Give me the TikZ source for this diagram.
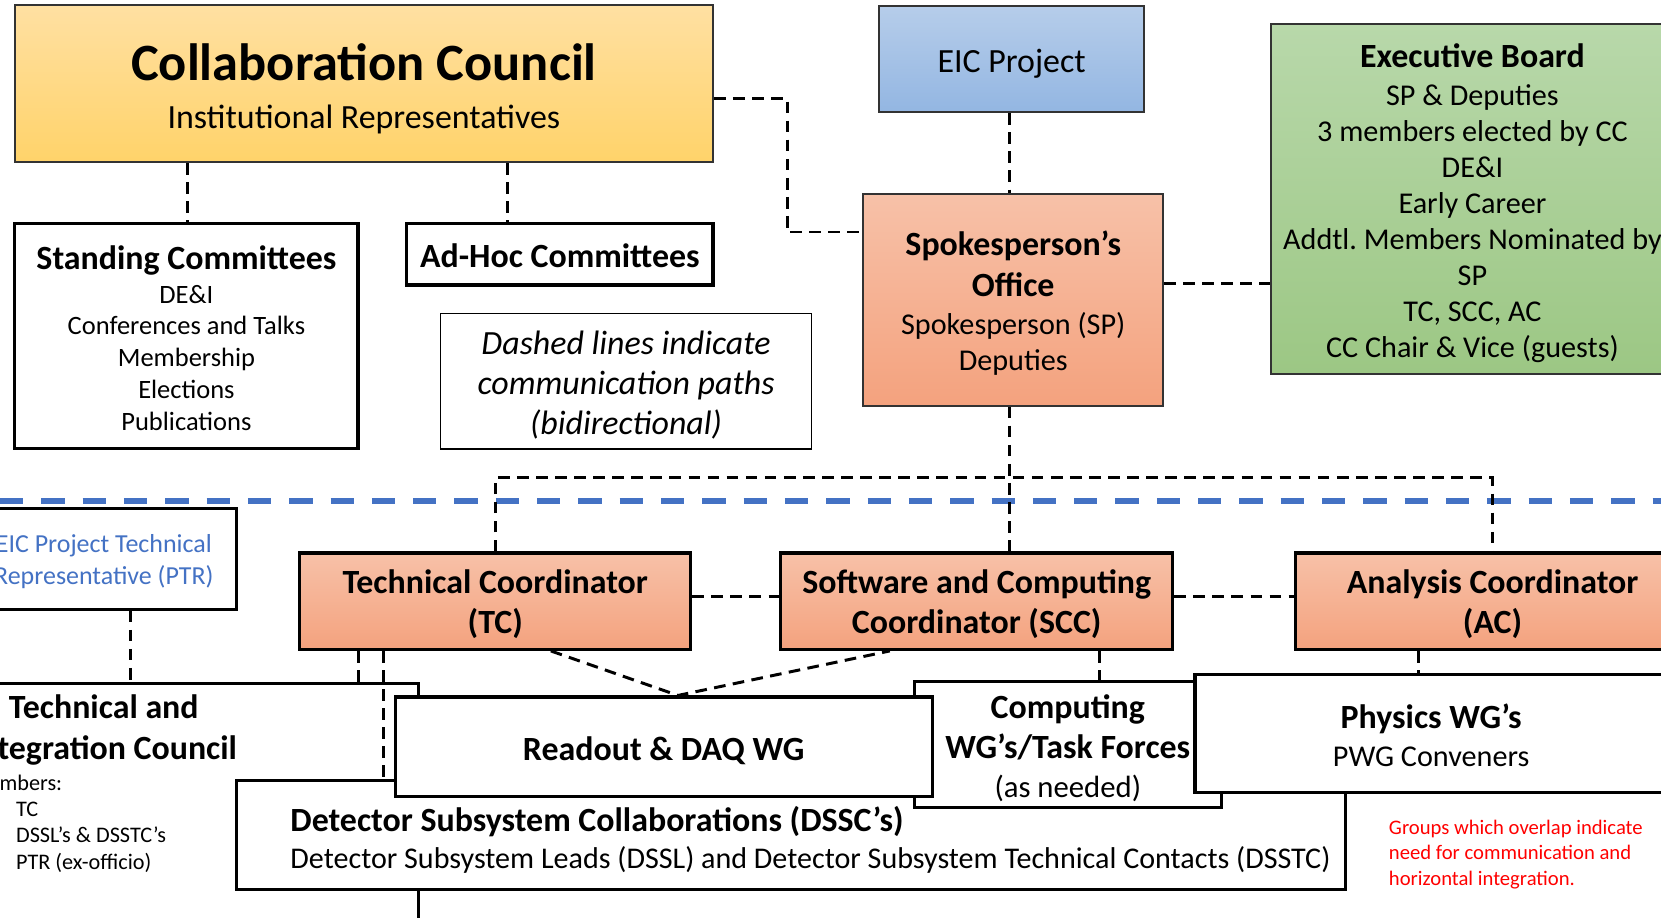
\documentclass[tikz,border=0pt]{standalone}
\usepackage{fontspec}
\setmainfont{Carlito}
\frenchspacing
\definecolor{blueline}{HTML}{4472C4}
\definecolor{ccTop}{HTML}{FFE0A2}
\definecolor{ccBot}{HTML}{FFD36A}
\definecolor{eicTop}{HTML}{B6CDEA}
\definecolor{eicBot}{HTML}{93B6E2}
\definecolor{spTop}{HTML}{F7C1A8}
\definecolor{spBot}{HTML}{F4A27E}
\definecolor{exTop}{HTML}{B8D8AA}
\definecolor{exBot}{HTML}{9CC784}
\definecolor{gborder}{HTML}{333333}
\newcommand{\hdfont}{\fontsize{32}{38}\selectfont\bfseries}
% strut that pushes the text of a box down by half its argument
\newcommand{\sdn}[1]{\rule{0pt}{\dimexpr\fontcharht\font`d+#1\relax}}
\tikzset{
  wbox/.style={draw=black, line width=3pt, fill=white, rectangle, inner sep=2pt, align=center},
  gbox/.style={draw=gborder, line width=1.8pt, rectangle, inner sep=2pt, align=center},
  cobox/.style={draw=black, line width=3pt, rectangle, inner sep=2pt, align=center,
    top color=spTop, bottom color=spBot, font=\hdfont},
  conn/.style={draw=black, line width=2.8pt, dash pattern=on 11pt off 7pt},
  plain/.style={inner sep=0pt, align=left}
}
\begin{document}
\begin{tikzpicture}[x=1pt,y=-1pt]
\clip (0,0) rectangle (1568,866);
\fill[white] (0,0) rectangle (1568,866);

% top half
\node[gbox, top color=ccTop, bottom color=ccBot, minimum width=659pt, minimum height=148pt,
  font=\fontsize{32}{37}\selectfont] (cc) at (343.5,79)
  {{\fontsize{49.5}{49.5}\selectfont\bfseries\sdn{10pt}Collaboration Council}\\[8pt] Institutional Representatives};

\node[gbox, top color=eicTop, bottom color=eicBot, minimum width=250pt, minimum height=100pt,
  font=\fontsize{32}{36}\selectfont] (eic) at (955,56) {\sdn{8pt}EIC Project};

\node[gbox, top color=exTop, bottom color=exBot, minimum width=380pt, minimum height=330pt,
  font=\fontsize{28.5}{34}\selectfont] (exec) at (1390,188)
  {{\hdfont\sdn{7pt}Executive Board}\\[2pt] SP \& Deputies\\ 3 members elected by CC\\ DE\&I\\ Early Career\\
   Addtl. Members Nominated by\\ SP\\ TC, SCC, AC\\ CC Chair \& Vice (guests)};

\node[gbox, top color=spTop, bottom color=spBot, minimum width=283pt, minimum height=200pt,
  font=\fontsize{28.5}{34}\selectfont] (sp) at (956.5,283)
  {{\hdfont\sdn{7pt}Spokesperson’s}\\[4pt] {\hdfont Office}\\[2pt] Spokesperson (SP)\\ Deputies};

\node[wbox, minimum width=324pt, minimum height=212pt, font=\fontsize{25}{30}\selectfont] (stand) at (176,317)
  {{\hdfont\sdn{4pt}Standing Committees}\\[2pt] DE\&I\\ Conferences and Talks\\ Membership\\ Elections\\ Publications};

\node[wbox, minimum width=289pt, minimum height=58pt, font=\hdfont] (adhoc) at (528.5,240) {\sdn{3pt}Ad-Hoc Committees};

\node[wbox, line width=1.5pt, minimum width=350pt, minimum height=128pt,
  font=\fontsize{32}{38}\selectfont\itshape] (note) at (591,360)
  {\sdn{7pt}Dashed lines indicate\\ communication paths\\ (bidirectional)};

% separator
\draw[blueline, line width=5pt, dash pattern=on 22pt off 17pt] (0,473) -- (1568,473);

% coordinators
\node[wbox, minimum width=250pt, minimum height=95pt, text=blueline, font=\fontsize{24.5}{30}\selectfont] (ptr) at (98,527.5)
  {\sdn{6pt}EIC Project Technical\\ Representative (PTR)};
\node[cobox, minimum width=369pt, minimum height=91pt] (tc) at (467.5,567.5) {\sdn{6pt}Technical Coordinator\\ (TC)};
\node[cobox, minimum width=370pt, minimum height=91pt] (scc) at (922,567.5) {\sdn{6pt}Software and Computing\\ Coordinator (SCC)};
\node[cobox, minimum width=372pt, minimum height=91pt] (ac) at (1409,567.5) {\sdn{6pt}Analysis Coordinator\\ (AC)};

% lower groups
\node[wbox, minimum width=594pt, minimum height=260pt] (tic) at (98,775) {};
\node[plain, align=center, font=\hdfont, anchor=north] (tictitle) at (98,656) {Technical and\\ Integration Council};
\node[plain, anchor=north west, font=\fontsize{21}{25}\selectfont] (ticmem) at (-29,731)
  {Members:\\ \hspace*{44pt}TC\\ \hspace*{44pt}DSSL’s \& DSSTC’s\\ \hspace*{44pt}PTR (ex-officio)};

\node[wbox, minimum width=1047pt, minimum height=103pt] (dssc) at (746.5,788.5) {};
\node[plain, anchor=west, font=\fontsize{28.4}{35}\selectfont] (dssctext) at (274,792.5)
  {{\hdfont Detector Subsystem Collaborations (DSSC’s)}\\ Detector Subsystem Leads (DSSL) and Detector Subsystem Technical Contacts (DSSTC)};

\node[wbox, minimum width=290pt, minimum height=119pt, font=\fontsize{29}{37}\selectfont] (comp) at (1008,702.5)
  {{\hdfont\sdn{8pt}Computing}\\[1pt] {\hdfont WG’s/Task Forces}\\ (as needed)};
\node[wbox, minimum width=507pt, minimum height=94pt, font=\hdfont] (ro) at (626.5,705) {\sdn{8pt}Readout \& DAQ WG};
\node[wbox, minimum width=446pt, minimum height=111pt, font=\fontsize{28.5}{36}\selectfont] (phys) at (1351,692.5)
  {{\hdfont\sdn{4pt}Physics WG’s}\\ PWG Conveners};

\node[plain, anchor=north west, text=red, font=\fontsize{19.5}{24}\selectfont] (redn) at (1311,774)
  {Groups which overlap indicate\\ need for communication and\\ horizontal integration.};

% connectors
\draw[conn] (cc.east |- 0,93) -| (743,219) -- (sp.west |- 0,219);
\draw[conn] (cc.south -| 177,0) -- (stand.north -| 177,0);
\draw[conn] (cc.south -| 479,0) -- (adhoc.north -| 479,0);
\draw[conn] (eic.south -| 953,0) -- (sp.north -| 953,0);
\draw[conn] (sp.east |- 0,268) -- (exec.west |- 0,268);
\draw[conn] (sp.south -| 953,0) -- (scc.north -| 953,0);
\draw[conn] (tc.north) -- (tc.north |- 0,451) -- (ac.north |- 0,451) -- (ac.north);
\draw[conn] (tc.east |- 0,563) -- (scc.west |- 0,563);
\draw[conn] (scc.east |- 0,563) -- (ac.west |- 0,563);
\draw[conn] (tc.south -| 520,0) -- (ro.north -| 640,0) -- (scc.south -| 840,0);
\draw[conn] (scc.south -| 1038,0) -- (comp.north -| 1038,0);
\draw[conn] (ac.south -| 1339,0) -- (phys.north -| 1339,0);
\draw[conn] (ptr.south -| 123,0) -- (tic.north -| 123,0);
\draw[conn] (tc.south -| 338,0) -- (tic.north -| 338,0);
\draw[conn] (tc.south -| 362,0) -- (dssc.north -| 362,0);
\end{tikzpicture}
\end{document}
